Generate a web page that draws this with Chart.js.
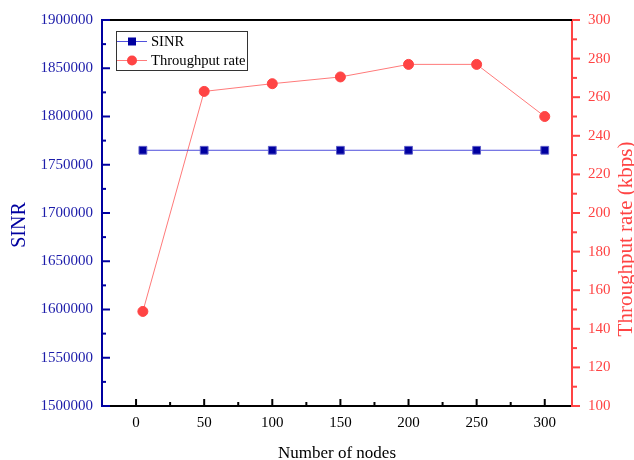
<!DOCTYPE html>
<html>
<head>
<meta charset="utf-8">
<script src="https://cdn.jsdelivr.net/npm/chart.js@4.4.0/dist/chart.umd.min.js"></script>
<style>
  html, body { margin: 0; padding: 0; background: #fff; }
  #wrap { width: 634px; height: 460px; }
</style>
</head>
<body>
<div id="wrap"><canvas id="myChart"></canvas></div>
<script>
// data
var nodes = [5, 50, 100, 150, 200, 250, 300];
var sinr = [1765000, 1765000, 1765000, 1765000, 1765000, 1765000, 1765000];
var throughput = [149, 263, 267, 270.5, 277, 277, 250];

// tick values
var xTicks = [0, 50, 100, 150, 200, 250, 300];
var xMinor = [25, 75, 125, 175, 225, 275];
var sinrTicks = [1500000, 1550000, 1600000, 1650000, 1700000, 1750000, 1800000, 1850000, 1900000];
var sinrMinor = [1525000, 1575000, 1625000, 1675000, 1725000, 1775000, 1825000, 1875000];
var rateTicks = [100, 120, 140, 160, 180, 200, 220, 240, 260, 280, 300];
var rateMinor = [110, 130, 150, 170, 190, 210, 230, 250, 270, 290];

var BLUE = '#0000a0';
var BLUE_TXT = '#1c1caa';
var BLUE_LINE = '#5050dc';
var RED = '#ff4444';
var RED_LINE = '#ff7a7a';
var SERIF = "'Liberation Serif', 'Times New Roman', serif";

Chart.defaults.font.family = SERIF;

// keep the plot box where the reference has it
function noPad(s) {
    s.paddingTop = 0; s.paddingBottom = 0; s.paddingLeft = 0; s.paddingRight = 0;
}

function sideTitle(c, text, x, y, size, color) {
    c.save();
    c.translate(x, y);
    c.rotate(-Math.PI / 2);
    c.fillStyle = color;
    c.font = size + 'px ' + SERIF;
    c.textAlign = 'center';
    c.textBaseline = 'alphabetic';
    c.fillText(text, 0, 0);
    c.restore();
}

var frameAndTicks = {
    id: 'frameAndTicks',
    afterDraw: function (chart) {
        var c = chart.ctx, a = chart.chartArea;
        var sx = chart.scales.x, sy = chart.scales.y, sr = chart.scales.y1;
        function seg(x1, y1, x2, y2) { c.beginPath(); c.moveTo(x1, y1); c.lineTo(x2, y2); c.stroke(); }
        c.save();
        c.lineWidth = 2;
        c.strokeStyle = '#000';
        seg(a.left, a.top, a.right, a.top);
        xTicks.forEach(function (v) { var p = sx.getPixelForValue(v); seg(p, a.bottom, p, a.bottom - 7); });
        xMinor.forEach(function (v) { var p = sx.getPixelForValue(v); seg(p, a.bottom, p, a.bottom - 4); });
        c.strokeStyle = BLUE;
        sinrTicks.forEach(function (v) { var p = sy.getPixelForValue(v); seg(a.left, p, a.left + 8, p); });
        sinrMinor.forEach(function (v) { var p = sy.getPixelForValue(v); seg(a.left, p, a.left + 4, p); });
        c.strokeStyle = RED;
        rateTicks.forEach(function (v) { var p = sr.getPixelForValue(v); seg(a.right, p, a.right + 8, p); });
        rateMinor.forEach(function (v) { var p = sr.getPixelForValue(v); seg(a.right, p, a.right + 5, p); });

        // axis titles, both reading bottom to top
        var mid = (a.top + a.bottom) / 2;
        sideTitle(c, 'SINR', 25, mid + 12, 20, BLUE);
        sideTitle(c, 'Throughput rate (kbps)', 632, mid + 26, 21, RED);

        // legend box
        var lx = 116, ly = 31, lw = 131, lh = 39;
        c.lineWidth = 1;
        c.strokeStyle = '#333';
        c.strokeRect(lx + 0.5, ly + 0.5, lw, lh);
        c.font = '14.6px ' + SERIF;
        c.textBaseline = 'middle';
        c.textAlign = 'left';
        chart.data.datasets.forEach(function (ds, i) {
            var yy = ly + 10.5 + i * 19;
            c.strokeStyle = ds.borderColor;
            c.lineWidth = 1;
            seg(lx + 1, yy, lx + 31, yy);
            c.fillStyle = ds.pointBackgroundColor;
            if (ds.pointStyle === 'rect') {
                c.fillRect(lx + 12, yy - 4, 8, 8);
            } else {
                c.beginPath(); c.arc(lx + 16, yy, 5, 0, Math.PI * 2); c.fill();
            }
            c.fillStyle = '#000';
            c.fillText(ds.label, lx + 35, yy + 1);
        });
        c.restore();
    }
};

var ctx = document.getElementById('myChart').getContext('2d');
var myChart = new Chart(ctx, {
    type: 'line',
    data: {
        datasets: [{
            label: 'SINR',
            data: nodes.map(function (n, i) { return { x: n, y: sinr[i] }; }),
            yAxisID: 'y',
            borderColor: BLUE_LINE,
            borderWidth: 1,
            pointStyle: 'rect',
            pointRadius: 5.5,
            pointBackgroundColor: BLUE,
            pointBorderColor: '#5c5cc8',
            pointBorderWidth: 1,
            tension: 0
        }, {
            label: 'Throughput rate',
            data: nodes.map(function (n, i) { return { x: n, y: throughput[i] }; }),
            yAxisID: 'y1',
            borderColor: RED_LINE,
            borderWidth: 1,
            pointStyle: 'circle',
            pointRadius: 5,
            pointBackgroundColor: RED,
            pointBorderColor: RED,
            pointBorderWidth: 1,
            tension: 0
        }]
    },
    options: {
        responsive: true,
        maintainAspectRatio: false,
        animation: false,
        layout: { padding: { top: 20, left: 0, right: 0, bottom: 0 } },
        plugins: {
            legend: { display: false },
            tooltip: { enabled: false }
        },
        scales: {
            x: {
                type: 'linear',
                min: -25,
                max: 320,
                afterBuildTicks: function (s) { s.ticks = xTicks.map(function (v) { return { value: v }; }); },
                afterFit: function (s) { s.height = 54; noPad(s); },
                grid: { display: false, drawTicks: false },
                border: { display: true, color: '#000', width: 2 },
                ticks: { color: '#000', font: { size: 15 }, padding: 8, maxRotation: 0 },
                title: { display: true, text: 'Number of nodes', color: '#000', font: { size: 17 }, padding: { top: 0, bottom: -4 } }
            },
            y: {
                position: 'left',
                min: 1500000,
                max: 1900000,
                afterBuildTicks: function (s) { s.ticks = sinrTicks.map(function (v) { return { value: v }; }); },
                afterFit: function (s) { s.width = 102; noPad(s); },
                grid: { display: false, drawTicks: false },
                border: { display: true, color: BLUE, width: 2 },
                ticks: { color: BLUE_TXT, font: { size: 15 }, padding: 9, callback: function (v) { return String(v); } }
            },
            y1: {
                position: 'right',
                min: 100,
                max: 300,
                afterBuildTicks: function (s) { s.ticks = rateTicks.map(function (v) { return { value: v }; }); },
                afterFit: function (s) { s.width = 62; noPad(s); },
                grid: { display: false, drawTicks: false },
                border: { display: true, color: RED, width: 2 },
                ticks: { color: RED, font: { size: 15 }, padding: 16, callback: function (v) { return String(v); } }
            }
        }
    },
    plugins: [frameAndTicks]
});
</script>
</body>
</html>
